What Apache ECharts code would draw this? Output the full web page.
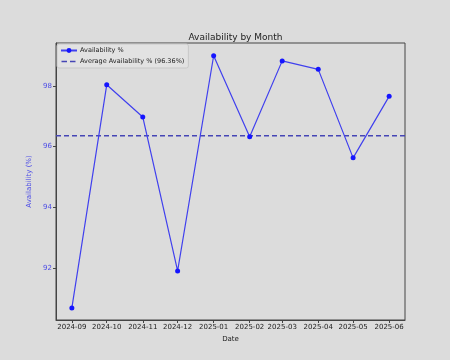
<!DOCTYPE html>
<html><head><meta charset="utf-8">
<script src="https://cdn.jsdelivr.net/npm/echarts@6/dist/echarts.min.js"></script>
<style>html,body{margin:0;padding:0;background:#dcdcdc}#c{width:450px;height:360px}</style>
</head><body><div id="c"></div>
<script>
var months = ['2024-09','2024-10','2024-11','2024-12','2025-01','2025-02','2025-03','2025-04','2025-05','2025-06'];
var availability = [90.68, 98.04, 96.98, 91.90, 99.00, 96.33, 98.83, 98.55, 95.63, 97.66];
var yTicks = [92, 94, 96, 98];
var yMin = 90.28, yMax = 99.42;

var DAY = 86400000;
function dayNum(s){ var p = s.split('-'); return Date.UTC(+p[0], +p[1]-1, 1)/DAY; }
var days = months.map(dayNum);
var avg = availability.reduce(function(a,b){return a+b;},0)/availability.length;
var span = days[days.length-1]-days[0];
var xMin = days[0]-span*0.05, xMax = days[days.length-1]+span*0.05;
function pad(n){return n<10?'0'+n:''+n;}
var font = 'DejaVu Sans';
var avgName = 'Average Availability % (' + avg.toFixed(2) + '%)';
var dashIcon = 'path://M0,0h0.01v0.01h-0.01z M15.99,6h0.01v0.01h-0.01z M0.5,2.3h5.5v1.4h-5.5z M9,2.3h5.5v1.4h-5.5z';
var chart = echarts.init(document.getElementById('c'), null, {renderer:'canvas'});
chart.setOption({
  backgroundColor:'#dcdcdc',
  animation:false,
  title:{text:'Availability by Month', left:230.5, textAlign:'center', top:28,
    textStyle:{fontFamily:font, fontSize:9, fontWeight:'normal', color:'#222'}},
  legend:{left:57, top:44, orient:'vertical', itemWidth:16, itemHeight:6, itemGap:4,
    padding:[3,4,3,3], backgroundColor:'rgba(226,226,226,0.9)', borderColor:'#c8c8c8', borderWidth:1, borderRadius:2,
    textStyle:{fontFamily:font, fontSize:6.5, color:'#222', padding:[0,0,0,-2]},
    data:['Availability %', {name:avgName, icon:dashIcon}]},
  grid:{left:56, right:45, top:43, bottom:40, show:true, borderColor:'#444', borderWidth:1, backgroundColor:'transparent'},
  xAxis:{type:'value', min:xMin, max:xMax, name:'Date', nameLocation:'middle', nameGap:16,
    nameTextStyle:{fontFamily:font, fontSize:7, color:'#222'},
    axisLine:{show:true, onZero:false, lineStyle:{color:'#444'}},
    splitLine:{show:false},
    axisTick:{show:true, length:3, customValues:days, lineStyle:{color:'#444'}},
    axisLabel:{customValues:days, fontFamily:font, fontSize:7, color:'#222', margin:4,
      formatter:function(v){var d=new Date(Math.round(v)*DAY); return d.getUTCFullYear()+'-'+pad(d.getUTCMonth()+1);}}},
  yAxis:{type:'value', min:yMin, max:yMax, name:'Availability (%)', nameLocation:'middle', nameGap:17,
    nameTextStyle:{fontFamily:font, fontSize:7, color:'#4d4de6'},
    axisLine:{show:true, onZero:false, lineStyle:{color:'#444'}},
    splitLine:{show:false},
    axisTick:{show:true, length:3, customValues:yTicks, lineStyle:{color:'#444'}},
    axisLabel:{customValues:yTicks, fontFamily:font, fontSize:7, color:'#4d4de6', margin:4}},
  series:[
    {name:'Availability %', type:'line', data:days.map(function(t,i){return [t, availability[i]];}),
      symbol:'circle', symbolSize:5, lineStyle:{color:'#4040ee', width:1.2},
      itemStyle:{color:'#1515ff'}, z:3},
    {name:avgName, type:'line', data:[[xMin, avg],[xMax, avg]],
      symbol:'none', lineStyle:{color:'#4545b5', width:1.5, type:[5,3]}, itemStyle:{color:'#4545b5'}, z:2}
  ]
});
</script></body></html>
